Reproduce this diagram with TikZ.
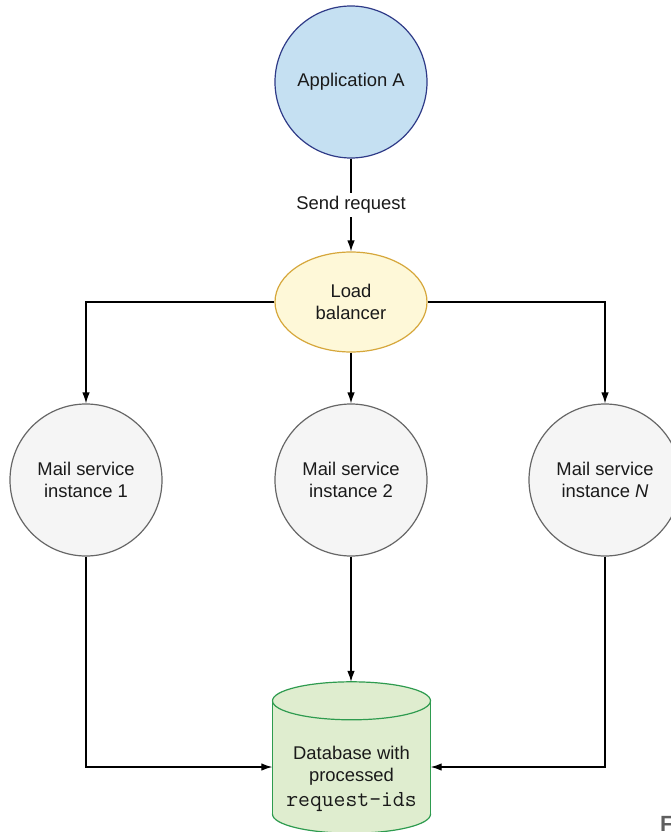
\documentclass[tikz,border=0pt]{standalone}
\usepackage{fontspec}
\setmainfont{Liberation Sans}
\usetikzlibrary{arrows.meta,calc,shapes.geometric}

\definecolor{appfill}{RGB}{197,224,242}
\definecolor{appline}{RGB}{46,58,135}
\definecolor{lbfill}{RGB}{254,248,216}
\definecolor{lbline}{RGB}{214,167,59}
\definecolor{msfill}{RGB}{245,245,245}
\definecolor{msline}{RGB}{102,102,102}
\definecolor{dbfill}{RGB}{223,237,207}
\definecolor{dbline}{RGB}{46,155,79}
\definecolor{txt}{RGB}{26,26,26}
\definecolor{capgray}{RGB}{95,95,95}

\tikzset{
  base/.style={align=center, text=txt, inner sep=0pt, line width=1.2pt},
  appnode/.style={base, circle, minimum size=152pt, draw=appline, fill=appfill},
  lbnode/.style={base, ellipse, minimum width=152pt, minimum height=100pt, draw=lbline, fill=lbfill},
  msnode/.style={base, circle, minimum size=152pt, draw=msline, fill=msfill},
  dbbox/.style={rectangle, minimum width=158pt, minimum height=151pt, inner sep=0pt},
  dbshape/.style={draw=dbline, fill=dbfill, line width=1.2pt},
  conn/.style={line width=1.2pt, draw=black, -{Latex[length=11pt,width=7.5pt]}},
  lbl/.style={fill=white, text=txt, inner sep=3pt}
}

\begin{document}
\begin{tikzpicture}[x=1pt, y=-1pt, font=\fontsize{18.4}{22}\selectfont]
\useasboundingbox (0,0) rectangle (671,832);
\clip (0,0) rectangle (671,832);

% nodes
\node[appnode] (app) at (351,82) {Application A};
\node[lbnode]  (lb)  at (351,302) {Load\\balancer};
\node[msnode]  (ms1) at (86,480)  {Mail service\\instance 1};
\node[msnode]  (ms2) at (351,480) {Mail service\\instance 2};
\node[msnode]  (msn) at (605,480) {Mail service\\instance \textit{N}};

% database cylinder
\node[dbbox] (db) at (351.5,757.5) {};
\draw[dbshape] ($(db.south)+(0,-19)$) ellipse [x radius=79pt, y radius=19pt];
\fill[dbfill] ($(db.north west)+(0,19)$) rectangle ($(db.south east)+(0,-19)$);
\draw[dbline, line width=1.2pt] ($(db.north west)+(0,19)$) -- ($(db.south west)+(0,-19)$);
\draw[dbline, line width=1.2pt] ($(db.north east)+(0,19)$) -- ($(db.south east)+(0,-19)$);
\draw[dbshape] ($(db.north)+(0,19)$) ellipse [x radius=79pt, y radius=19pt];
\node[base, line width=0pt] (dbtxt) at (351.5,778.5) {Database with\\processed\\[3pt]{\ttfamily\fontsize{23}{24}\selectfont request-ids}};

% connectors
\draw[conn] (app) -- node[lbl] (send) {Send request} (lb);
\draw[conn] (lb.west) -| (ms1.north);
\draw[conn] (lb.south) -- (ms2.north);
\draw[conn] (lb.east) -| (msn.north);
\draw[conn] (ms1.south) |- ($(db.west)+(0,9.5)$);
\draw[conn] (ms2.south) -- (ms2.south |- db.north);
\draw[conn] (msn.south) |- ($(db.east)+(0,9.5)$);

% caption fragment
\node[anchor=north west, inner sep=0pt, text=capgray, font=\fontsize{22}{26}\selectfont\bfseries] (fig) at (660,816) {F};
\end{tikzpicture}
\end{document}
